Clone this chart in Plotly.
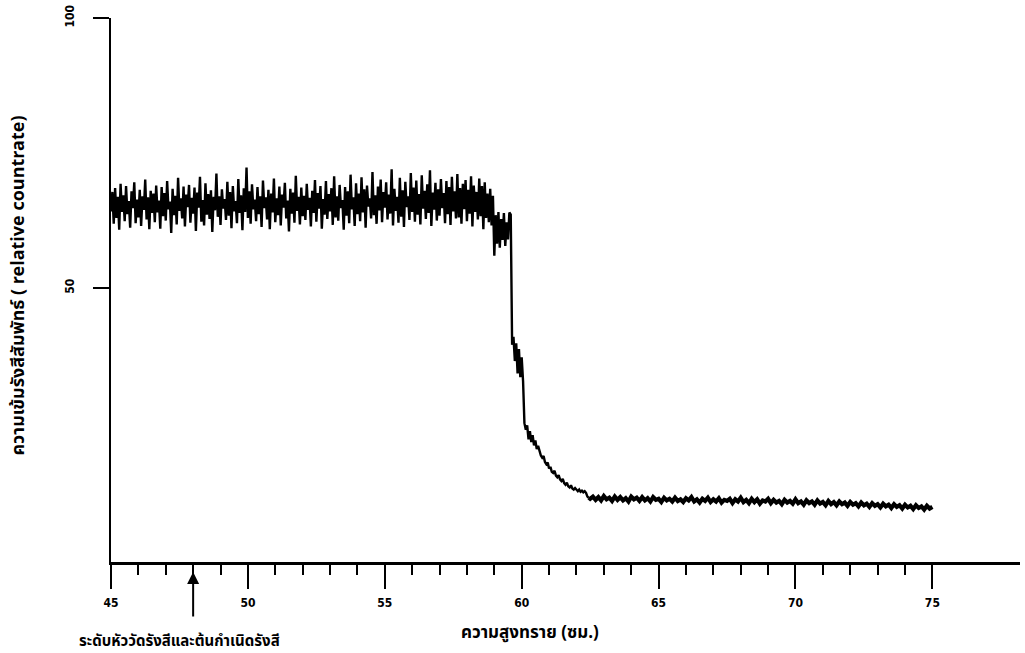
import numpy as np
import plotly.graph_objects as go

# ---------------- data ----------------
# plateau before the sand level reaches the detector: x = 45.00 .. 58.95, step 0.05
plateau_start, plateau_step = 45.0, 0.05
plateau_counts = [
    64.2, 67.8, 61.9, 68.5, 63.0, 66.9, 60.8, 69.3, 64.1, 67.2, 62.4, 68.9, 63.7, 66.1, 61.2, 67.9, 64.8, 69.6, 62.0, 66.4,
    63.1, 68.2, 61.5, 67.0, 64.5, 70.1, 62.7, 66.8, 60.9, 68.0, 63.9, 67.5, 62.2, 69.0, 64.0, 66.2, 61.0, 68.7, 63.3, 67.6,
    62.5, 69.8, 64.6, 66.0, 60.2, 68.4, 63.5, 67.1, 61.8, 70.4, 64.3, 66.6, 62.9, 68.8, 61.4, 67.3, 65.0, 69.1, 62.1, 66.7,
    63.8, 68.6, 60.6, 67.7, 64.9, 70.6, 62.3, 66.3, 61.6, 69.4, 63.6, 67.4, 62.8, 68.1, 60.4, 66.9, 64.4, 71.2, 63.2, 67.0,
    61.7, 68.3, 64.7, 66.5, 62.6, 69.7, 63.4, 67.8, 61.1, 68.9, 64.2, 66.1, 62.0, 70.2, 63.9, 67.2, 60.7, 68.5, 64.1, 72.3,
    63.0, 67.9, 61.9, 69.2, 64.6, 66.4, 62.4, 68.7, 63.7, 67.0, 61.3, 69.9, 64.8, 66.8, 62.7, 68.2, 60.9, 67.5, 64.0, 70.3,
    62.2, 66.6, 63.5, 68.8, 61.6, 67.3, 64.9, 69.5, 62.9, 66.2, 60.5, 68.4, 63.8, 67.7, 62.1, 70.8, 64.3, 66.9, 61.8, 68.6,
    63.3, 67.1, 62.6, 69.3, 64.5, 66.7, 61.4, 68.0, 63.9, 70.0, 62.3, 67.6, 64.7, 68.9, 61.0, 66.5, 63.6, 69.8, 62.8, 67.4,
    64.2, 68.5, 61.7, 70.7, 63.1, 67.0, 62.5, 69.1, 64.8, 66.3, 60.8, 68.7, 63.4, 67.9, 62.0, 71.0, 64.6, 66.8, 61.5, 69.4,
    63.7, 67.5, 62.4, 70.5, 64.0, 68.3, 61.2, 69.0, 65.1, 66.6, 62.9, 71.5, 63.5, 67.2, 61.9, 68.8, 64.4, 70.1, 62.2, 67.8,
    64.9, 69.6, 62.7, 67.3, 63.8, 72.0, 61.6, 68.4, 64.3, 66.9, 62.1, 70.4, 63.2, 68.1, 61.3, 69.7, 65.0, 67.0, 62.6, 71.3,
    64.1, 68.6, 62.3, 69.9, 63.6, 67.4, 61.8, 70.9, 64.7, 68.0, 62.8, 69.2, 63.9, 71.8, 61.5, 67.7, 64.5, 69.5, 62.5, 68.3,
    63.4, 70.2, 64.8, 67.6, 62.0, 69.8, 63.7, 68.7, 61.7, 70.6, 64.2, 67.9, 62.9, 71.1, 63.1, 68.5, 61.9, 69.3, 64.6, 70.0,
    62.4, 68.2, 63.8, 70.7, 61.4, 69.0, 64.1, 67.8, 62.7, 70.3, 63.3, 68.9, 60.9, 69.6, 63.0, 67.5, 62.2, 68.4, 61.6, 67.1,
]

# transition zone: x = 59.00 .. 62.45, step 0.05
drop_start, drop_step = 59.0, 0.05
drop_counts = [
    56.0, 63.5, 58.2, 64.1, 57.5, 62.8, 58.9, 63.9, 57.8, 62.2, 59.0, 64.0, 63.6,
    39.5, 41.0, 36.5, 39.8, 34.2, 38.7, 33.5, 37.2, 32.8, 25.0,
    23.8, 24.6, 22.0, 23.5, 21.5, 22.8, 20.9, 21.8, 20.2, 20.8,
    19.6, 19.0, 18.6, 18.9, 17.8, 17.4, 17.7, 16.6, 16.9, 16.0, 15.8, 16.2, 15.3, 15.0, 15.4, 14.6,
    14.3, 14.7, 13.9, 13.6, 14.0, 13.3, 13.1, 13.5, 12.9, 12.7, 13.0, 12.6, 12.4, 12.7, 12.3, 12.5,
    12.2, 12.4, 12.1, 11.4, 11.2,
]

# background level after the source is covered: x = 62.5 .. 75.0, step 0.1
tail_start, tail_step = 62.5, 0.1
tail_counts = [
    11.0, 11.4, 10.8, 11.3, 10.7, 11.5, 10.9, 11.2, 10.6, 11.4,
    10.8, 11.3, 10.7, 11.1, 10.5, 11.4, 10.9, 11.2, 10.6, 11.3,
    10.7, 11.1, 10.5, 11.3, 10.8, 11.0, 10.4, 11.2, 10.7, 11.0,
    10.5, 11.2, 10.6, 10.9, 10.4, 11.1, 10.7, 11.3, 10.5, 10.9,
    10.3, 11.0, 10.6, 11.2, 10.4, 10.9, 10.5, 11.1, 10.3, 10.8,
    10.6, 11.0, 10.2, 10.9, 10.5, 11.2, 10.4, 10.8, 10.2, 11.0,
    10.4, 10.9, 10.1, 10.7, 10.5, 11.0, 10.2, 10.8, 10.3, 10.6,
    10.0, 10.8, 10.3, 10.6, 10.1, 10.9, 10.2, 10.5, 9.9, 10.7,
    10.2, 10.5, 9.9, 10.7, 10.1, 10.4, 9.8, 10.6, 10.0, 10.4,
    9.8, 10.5, 10.0, 10.3, 9.7, 10.4, 9.9, 10.2, 9.6, 10.3,
    9.8, 10.1, 9.5, 10.2, 9.7, 10.0, 9.4, 10.1, 9.6, 9.9,
    9.3, 10.0, 9.5, 9.8, 9.2, 9.9, 9.4, 9.7, 9.1, 9.8,
    9.3, 9.6, 9.0, 9.7, 9.2, 9.5,
]

x_major_ticks = [45, 50, 55, 60, 65, 70, 75]
x_minor_ticks = list(range(45, 76))
y_ticks = [50, 100]
detector_level = 48  # cm, position of the arrow

x_title = "ความสูงทราย (ซม.)"
y_title = "ความเข้มรังสีสัมพัทธ์ ( relative countrate)"
detector_label = "ระดับหัววัดรังสีและต้นกำเนิดรังสี"

# ---------------- build ----------------
def positions(start, step, n):
    return np.round(start + step * np.arange(n), 3)

x1 = positions(plateau_start, plateau_step, len(plateau_counts))
x2 = positions(drop_start, drop_step, len(drop_counts))
x3 = positions(tail_start, tail_step, len(tail_counts))

xa = np.concatenate([x1, x2])
ya = np.concatenate([plateau_counts, drop_counts])
xb = np.concatenate([[x2[-1]], x3])
yb = np.concatenate([[drop_counts[-1]], tail_counts])

FONT = "Noto Sans Thai, Loma, Garuda, Tlwg Typo, DejaVu Sans, sans-serif"
NUMFONT = "DejaVu Sans Condensed, DejaVu Sans"

fig = go.Figure()
fig.add_trace(go.Scatter(x=xa, y=ya, mode="lines",
                         line=dict(color="black", width=2.4), showlegend=False))
fig.add_trace(go.Scatter(x=xb, y=yb, mode="lines",
                         line=dict(color="black", width=4.2), showlegend=False))

W, H = 1025, 653
ml, mr, mt, mb = 111, 5, 13, 91
pw, ph = W - ml - mr, H - mt - mb

def px_x(p):
    return (p - ml) / pw

def px_y(p):
    return (H - mb - p) / ph

fig.update_layout(
    width=W, height=H,
    margin=dict(l=ml, r=mr, t=mt, b=mb),
    paper_bgcolor="white", plot_bgcolor="white",
    font=dict(family=FONT, color="black"),
    xaxis=dict(
        range=[45, 78.2], showgrid=False, zeroline=False,
        showline=True, linecolor="black", linewidth=2.5,
        tickmode="array", tickvals=x_major_ticks,
        ticks="outside", ticklen=24, tickwidth=2, tickcolor="black",
        tickfont=dict(size=12, weight="bold", family=NUMFONT),
        ticklabelstandoff=4,
        minor=dict(tickmode="array", tickvals=x_minor_ticks, ticks="outside",
                   ticklen=10, tickwidth=2, tickcolor="black"),
    ),
    yaxis=dict(
        range=[-0.7, 100], showgrid=False, zeroline=False,
        showline=True, linecolor="black", linewidth=2,
        tickmode="array", tickvals=y_ticks,
        ticks="outside", ticklen=16, tickwidth=2, tickcolor="black",
        tickangle=-90, ticklabelstandoff=14, ticklabeloverflow="allow",
        tickfont=dict(size=12, weight="bold", family=NUMFONT),
    ),
)

# axis titles
fig.add_annotation(xref="paper", yref="paper", x=px_x(19), y=px_y(283),
                   text=y_title, textangle=-90, showarrow=False,
                   xanchor="center", yanchor="middle",
                   font=dict(size=18, weight="bold", family=FONT))
fig.add_annotation(xref="paper", yref="paper", x=px_x(530), y=px_y(634),
                   text=x_title, showarrow=False,
                   xanchor="center", yanchor="middle",
                   font=dict(size=17, weight="bold", family=FONT))

# detector level arrow and label
fig.add_annotation(xref="x", yref="paper", x=detector_level, y=px_y(572),
                   text="", showarrow=True, ax=0, ay=46,
                   arrowhead=2, arrowsize=1.2, arrowwidth=2, arrowcolor="black")
fig.add_annotation(xref="paper", yref="paper", x=px_x(77), y=px_y(642),
                   text=detector_label, showarrow=False,
                   xanchor="left", yanchor="middle",
                   font=dict(size=15, weight="bold", family=FONT))

fig.write_html("out.html")
